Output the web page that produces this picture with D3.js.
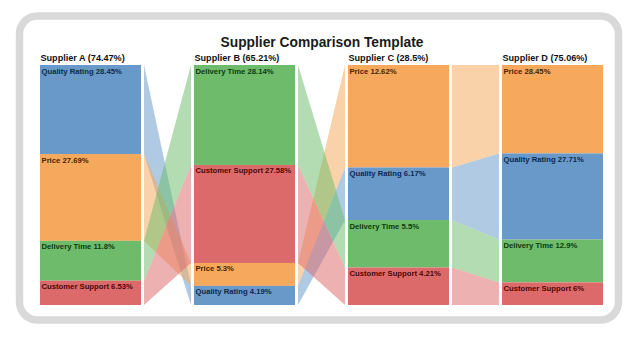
<!DOCTYPE html>
<html>
<head>
<meta charset="utf-8">
<script src="https://cdn.jsdelivr.net/npm/d3@7"></script>
<style>
  html, body { margin: 0; padding: 0; background: #ffffff; }
  svg { display: block; }
</style>
</head>
<body>
<div id="chart"></div>
<script>
// ---- data ----
const title = "Supplier Comparison Template";
const suppliers = ["Supplier A", "Supplier B", "Supplier C", "Supplier D"];
const categories = ["Quality Rating", "Price", "Delivery Time", "Customer Support"];
const qualityRating   = [28.45, 4.19, 6.17, 27.71];
const price           = [27.69, 5.3, 12.62, 28.45];
const deliveryTime    = [11.8, 28.14, 5.5, 12.9];
const customerSupport = [6.53, 27.58, 4.21, 6];
const categoryColors  = ["#6899c9", "#f6a85c", "#6dbb6b", "#dd6a6a"];
const labelColors     = ["#0e2a4e", "#4a2500", "#0c3b0c", "#4c0909"];

const seriesValues = [qualityRating, price, deliveryTime, customerSupport];

// ---- layout ----
const W = 642, H = 339;
const barTop = 65, barBottom = 305, segPad = 5, gap = 3;

const svg = d3.select("#chart").append("svg")
  .attr("width", W).attr("height", H)
  .attr("font-family", "'Liberation Sans', Arial, sans-serif");

// frame
svg.append("rect")
  .attr("x", 19.5).attr("y", 16).attr("width", 599).attr("height", 304)
  .attr("rx", 18).attr("ry", 18)
  .attr("fill", "#ffffff").attr("stroke", "#d9d9d9").attr("stroke-width", 7.5);

svg.append("text")
  .attr("x", 322).attr("y", 47)
  .attr("text-anchor", "middle")
  .attr("font-size", 13.8).attr("font-weight", "bold").attr("fill", "#1a1a1a")
  .text(title);

const x = d3.scaleBand().domain(suppliers).range([40, 603]).paddingInner(0.344).paddingOuter(0);

// build stacked nodes per supplier (ranked descending)
const columns = suppliers.map((s, si) => {
  const items = categories.map((c, ci) => ({ cat: c, ci, value: seriesValues[ci][si] }))
    .sort((a, b) => b.value - a.value);
  const sum = d3.sum(items, d => d.value);
  const y = d3.scaleLinear().domain([0, sum]).range([0, (barBottom - barTop) - segPad * items.length]);
  let acc = barTop;
  items.forEach(d => {
    d.y0 = acc;
    d.h = y(d.value) + segPad;
    d.y1 = acc + d.h;
    acc = d.y1;
  });
  return { supplier: s, si, sum, items, byCat: Object.fromEntries(items.map(d => [d.cat, d])) };
});

// ribbons
const linkG = svg.append("g");
for (let i = 0; i < columns.length - 1; i++) {
  const a = columns[i], b = columns[i + 1];
  const x0 = x(a.supplier) + x.bandwidth() + gap;
  const x1 = x(b.supplier) - gap;
  categories.forEach((c, ci) => {
    const na = a.byCat[c], nb = b.byCat[c];
    const pts = [[x0, na.y0], [x1, nb.y0], [x1, nb.y1], [x0, na.y1]];
    linkG.append("path")
      .attr("d", d3.line()(pts) + "Z")
      .attr("fill", categoryColors[ci])
      .attr("fill-opacity", 0.52);
  });
}

// bars
columns.forEach(col => {
  const g = svg.append("g");
  const bx = x(col.supplier);
  g.append("text")
    .attr("x", bx + 0.5).attr("y", 61)
    .attr("font-size", 9.1).attr("font-weight", "bold").attr("fill", "#111")
    .text(`${col.supplier} (${+col.sum.toFixed(2)}%)`);
  col.items.forEach(d => {
    g.append("rect")
      .attr("x", bx).attr("y", d.y0)
      .attr("width", x.bandwidth()).attr("height", d.h)
      .attr("fill", categoryColors[d.ci]);
    g.append("text")
      .attr("x", bx + 1.5).attr("y", d.y0 + 8.5)
      .attr("font-size", 7.7).attr("font-weight", "bold")
      .attr("fill", labelColors[d.ci])
      .text(`${d.cat} ${d.value}%`);
  });
});
</script>
</body>
</html>
